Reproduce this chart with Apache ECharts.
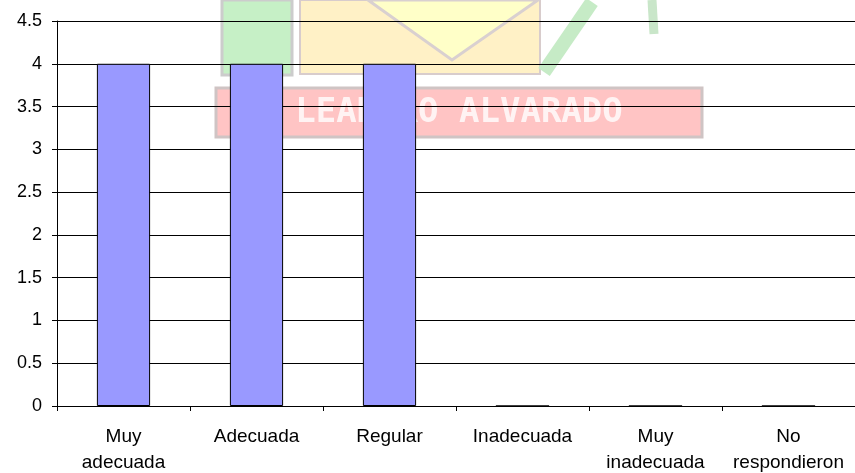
<!DOCTYPE html>
<html>
<head>
<meta charset="utf-8">
<script src="https://cdn.jsdelivr.net/npm/echarts@6/dist/echarts.min.js"></script>
<style>
  html, body { margin: 0; padding: 0; background: #fff; }
  #chart { width: 855px; height: 473px; }
</style>
</head>
<body>
<div id="chart"></div>
<script>
// Respuestas por categoría
const categories = ['Muy\nadecuada', 'Adecuada', 'Regular', 'Inadecuada', 'Muy\ninadecuada', 'No\nrespondieron'];
const values = [4, 4, 4, 0, 0, 0];
const yMin = 0;
const yMax = 4.5;
const yStep = 0.5;

const chart = echarts.init(document.getElementById('chart'), null, { renderer: 'canvas' });

// Faded logo behind the plot
const logo = [
  { type: 'rect', shape: { x: 222, y: 0, width: 70, height: 75 }, style: { fill: '#c6f0c6', stroke: '#cccccc', lineWidth: 3 } },
  { type: 'rect', shape: { x: 300, y: 0, width: 240, height: 74 }, style: { fill: '#fff1c6', stroke: '#d8cccc', lineWidth: 2 } },
  { type: 'polygon', shape: { points: [[368, 0], [452, 60], [538, 0]] }, style: { fill: '#ffffc8', stroke: '#d9d0d0', lineWidth: 3 } },
  { type: 'line', shape: { x1: 544, y1: 72, x2: 592, y2: 2 }, style: { stroke: '#c6ebc6', lineWidth: 14 } },
  { type: 'line', shape: { x1: 652, y1: 0, x2: 654, y2: 34 }, style: { stroke: '#c9e6c9', lineWidth: 9 } },
  { type: 'rect', shape: { x: 216, y: 88, width: 486, height: 49 }, style: { fill: '#ffc4c4', stroke: '#cfc4c4', lineWidth: 3 } },
  { type: 'text', x: 459, y: 113, style: { text: 'LEANDRO ALVARADO', fill: 'rgba(255,255,255,0.8)', font: 'bold 34px "DejaVu Sans Mono"', align: 'center', verticalAlign: 'middle' } }
];

chart.setOption({
  animation: false,
  backgroundColor: '#ffffff',
  graphic: logo.map(function (g) { return Object.assign({ z: -10, silent: true }, g); }),
  grid: { left: 57, right: 0, top: 21, bottom: 67, containLabel: false, outerBoundsMode: 'none' },
  xAxis: {
    type: 'category',
    data: categories,
    boundaryGap: true,
    axisLine: { lineStyle: { color: '#000', width: 1 } },
    axisTick: { show: true, alignWithLabel: false, length: 5, inside: false, lineStyle: { color: '#000' } },
    axisLabel: { color: '#000', fontFamily: 'Liberation Sans, Arial', fontSize: 19, margin: 18, lineHeight: 26, interval: 0 },
    splitLine: { show: false }
  },
  yAxis: {
    type: 'value',
    min: yMin,
    max: yMax,
    interval: yStep,
    axisLine: { show: true, lineStyle: { color: '#000', width: 1 } },
    axisTick: { show: true, length: 5, lineStyle: { color: '#000' } },
    axisLabel: { color: '#000', fontFamily: 'Liberation Sans, Arial', fontSize: 18, margin: 15 },
    splitLine: { show: true, lineStyle: { color: '#000', width: 1 } }
  },
  series: [{
    type: 'bar',
    data: values,
    barWidth: '40%',
    itemStyle: { color: '#9999ff', borderColor: '#000', borderWidth: 1 }
  }]
});
</script>
</body>
</html>
